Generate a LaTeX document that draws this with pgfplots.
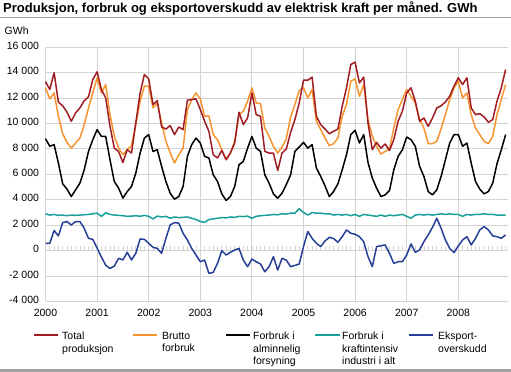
\documentclass[border=0pt]{standalone}
\usepackage{pgfplots}
\pgfplotsset{compat=1.18}
\usepackage{pgfplotstable}
\usepackage{fontspec}
\setmainfont{Liberation Sans}
\definecolor{cprod}{RGB}{158,28,34}
\definecolor{cbrutto}{RGB}{247,148,48}
\definecolor{ckraft}{RGB}{26,160,155}
\definecolor{ceks}{RGB}{38,62,150}
\definecolor{cgrid}{RGB}{212,212,212}
\definecolor{crule}{RGB}{160,160,160}

\pgfplotstableread{
m prod brutto alm kraft eks
0 13300 12810 8810 2900 580
1 12680 11940 8210 2800 580
2 14000 12410 8340 2850 1580
3 11680 10570 6890 2780 1160
4 11400 9200 5260 2800 2210
5 10900 8520 4840 2750 2290
6 10180 8070 4260 2800 2020
7 10840 8470 4790 2780 2290
8 11230 8860 5310 2800 2290
9 11800 9910 6360 2830 1760
10 12100 11230 7810 2850 970
11 13470 12410 8730 2900 890
12 14070 13600 9520 2950 200
13 12680 12410 8990 2700 -500
14 12020 13070 8990 2980 -1150
15 9780 10700 7150 2850 -1400
16 8070 9000 5440 2800 -1210
17 7800 8070 4920 2780 -600
18 6940 7550 4130 2750 -730
19 7940 7940 4650 2700 -130
20 7680 8260 5050 2720 -730
21 10050 9910 6100 2750 -210
22 12400 11760 7680 2700 920
23 13860 12940 8860 2780 890
24 13520 12940 9130 2700 580
25 11490 11230 7810 2500 260
26 11800 11620 7940 2720 180
27 9730 10050 6630 2650 -210
28 9570 8600 5440 2700 970
29 9840 7700 4520 2550 2030
30 9130 6890 4050 2650 2210
31 9730 7550 4260 2600 2160
32 9520 8070 5050 2620 1370
33 11840 11100 7420 2650 840
34 11890 11890 8340 2550 180
35 11940 12410 8860 2450 -340
36 11100 11940 8470 2300 -870
37 10180 10570 7420 2230 -740
38 9390 10600 7290 2450 -1790
39 7550 9130 5970 2500 -1710
40 7290 8730 5440 2550 -1000
41 7890 7940 4470 2600 0
42 7150 7200 3950 2580 -340
43 7680 7680 4260 2650 -130
44 8470 8600 5050 2620 50
45 10890 10700 6760 2700 180
46 9920 10970 7020 2680 -740
47 10440 11760 8070 2720 -1260
48 12410 12810 8990 2550 -660
49 10700 11620 8070 2700 -870
50 10570 11570 7810 2750 -1050
51 7810 9650 5970 2780 -1660
52 7680 9000 5310 2800 -1260
53 7680 8200 4470 2850 -470
54 6310 7680 4130 2820 -1530
55 7680 8150 4520 2900 -600
56 8000 8800 5200 2880 -740
57 9300 10500 5970 2950 -1260
58 10310 11500 7810 2950 -1160
59 11620 12600 8150 3300 -1050
60 13410 12810 8520 3000 320
61 13410 12020 8070 2800 1500
62 13650 12680 8340 3000 970
63 10570 10180 6500 2950 580
64 9920 9520 5840 2950 320
65 9570 8860 5100 2900 760
66 9200 8260 4260 2900 1050
67 9390 8420 4650 2800 950
68 9570 8860 5260 2850 660
69 11360 10570 6360 2800 1100
70 12810 11500 7550 2850 1630
71 14650 13330 9130 2750 1370
72 14830 13520 9470 2850 1290
73 13200 12150 8470 2700 1100
74 13650 13070 9130 2850 710
75 10050 10300 6940 2800 -470
76 7940 9000 5710 2750 -1260
77 8520 8210 4920 2700 320
78 8070 7600 4260 2800 390
79 8390 7810 4390 2700 450
80 7890 8000 4730 2800 -210
81 8730 9650 6360 2750 -1000
82 10180 11100 7420 2800 -870
83 10970 11890 7940 2850 -870
84 12410 12680 8940 2700 -340
85 12810 12150 8730 2550 530
86 11760 11620 8210 2800 -130
87 10180 10310 6630 2850 50
88 10440 9650 5840 2800 710
89 9780 8420 4650 2850 1240
90 10440 8420 4390 2800 1840
91 11230 8600 4790 2850 2550
92 11400 9600 5840 2900 1760
93 11700 10700 7150 2850 840
94 12150 11890 8470 2900 180
95 12940 12810 9130 2850 -160
96 13600 13330 9130 2850 370
97 13070 12020 8210 2700 840
98 13600 12410 8470 2850 1100
99 11230 10700 6890 2800 450
100 10700 9650 5440 2850 970
101 10780 9130 4840 2850 1630
102 10520 8600 4470 2900 1890
103 10100 8420 4650 2850 1630
104 10310 9000 5310 2850 1160
105 11760 10700 6840 2800 1100
106 12810 11890 7940 2800 970
107 14250 13070 9130 2800 1240
}\data

\begin{document}
\begin{tikzpicture}
\useasboundingbox (0,0) rectangle (511bp,372bp);
\node[anchor=base west, inner sep=0, font=\fontsize{13bp}{15bp}\selectfont\bfseries] at (3bp,359.5bp) {Produksjon, forbruk og eksportoverskudd av elektrisk kraft per måned. GWh};
\draw[crule, line width=1.2bp] (0,354.5bp) -- (511bp,354.5bp);
\draw[crule, line width=2.5bp] (0,1.3bp) -- (511bp,1.3bp);
\node[anchor=west, inner sep=0, font=\fontsize{10.5bp}{12bp}\selectfont] at (4.5bp,341bp) {GWh};
\begin{axis}[
  at={(45.5bp,70.5bp)}, anchor=south west,
  scale only axis, width=462.25bp, height=254.2bp,
  xmin=0, xmax=107.5, ymin=-4000, ymax=16000,
  xtick={0,12,24,36,48,60,72,84,96},
  xticklabels={2000,2001,2002,2003,2004,2005,2006,2007,2008},
  ytick={-4000,-2000,0,2000,4000,6000,8000,10000,12000,14000,16000},
  yticklabels={-4 000,-2 000,0,2 000,4 000,6 000,8 000,10 000,12 000,14 000,16 000},
  scaled y ticks=false, scaled x ticks=false,
  axis line style={draw=none},
  tick style={draw=none},
  grid=major,
  major grid style={cgrid, line width=1bp},
  yticklabel style={font=\fontsize{10.5bp}{12bp}\selectfont, xshift=-3bp, yshift=1.5bp},
  xticklabel style={font=\fontsize{10.5bp}{12bp}\selectfont, yshift=-4.5bp},
  clip=false,
]
\pgfplotsinvokeforeach{0,...,107}{\draw[cgrid, line width=0.8bp] (axis cs:#1,0) -- (axis cs:#1,400);}
\addplot[ckraft, line width=1.5bp, line join=round] table[x=m,y=kraft]{\data};
\addplot[ceks, line width=1.5bp, line join=round] table[x=m,y=eks]{\data};
\addplot[black, line width=1.5bp, line join=round] table[x=m,y=alm]{\data};
\addplot[cbrutto, line width=1.5bp, line join=round] table[x=m,y=brutto]{\data};
\addplot[cprod, line width=1.5bp, line join=round] table[x=m,y=prod]{\data};
\end{axis}
\begin{scope}[every node/.style={anchor=north west, align=left, inner sep=0, font=\fontsize{10.5bp}{12.5bp}\selectfont}]
\draw[cprod, line width=1.6bp] (34bp,37bp) -- (58bp,37bp);
\node at (62bp,40bp) {Total\\produksjon};
\draw[cbrutto, line width=1.6bp] (133bp,37bp) -- (157bp,37bp);
\node at (162bp,40bp) {Brutto\\forbruk};
\draw[black, line width=1.6bp] (226bp,37bp) -- (250bp,37bp);
\node at (253bp,40bp) {Forbruk i\\alminnelig\\forsyning};
\draw[ckraft, line width=1.6bp] (315bp,37bp) -- (340bp,37bp);
\node at (342bp,40bp) {Forbruk i\\kraftintensiv\\industri i alt};
\draw[ceks, line width=1.6bp] (409bp,37bp) -- (433bp,37bp);
\node at (438bp,40bp) {Eksport-\\overskudd};
\end{scope}
\end{tikzpicture}
\end{document}
